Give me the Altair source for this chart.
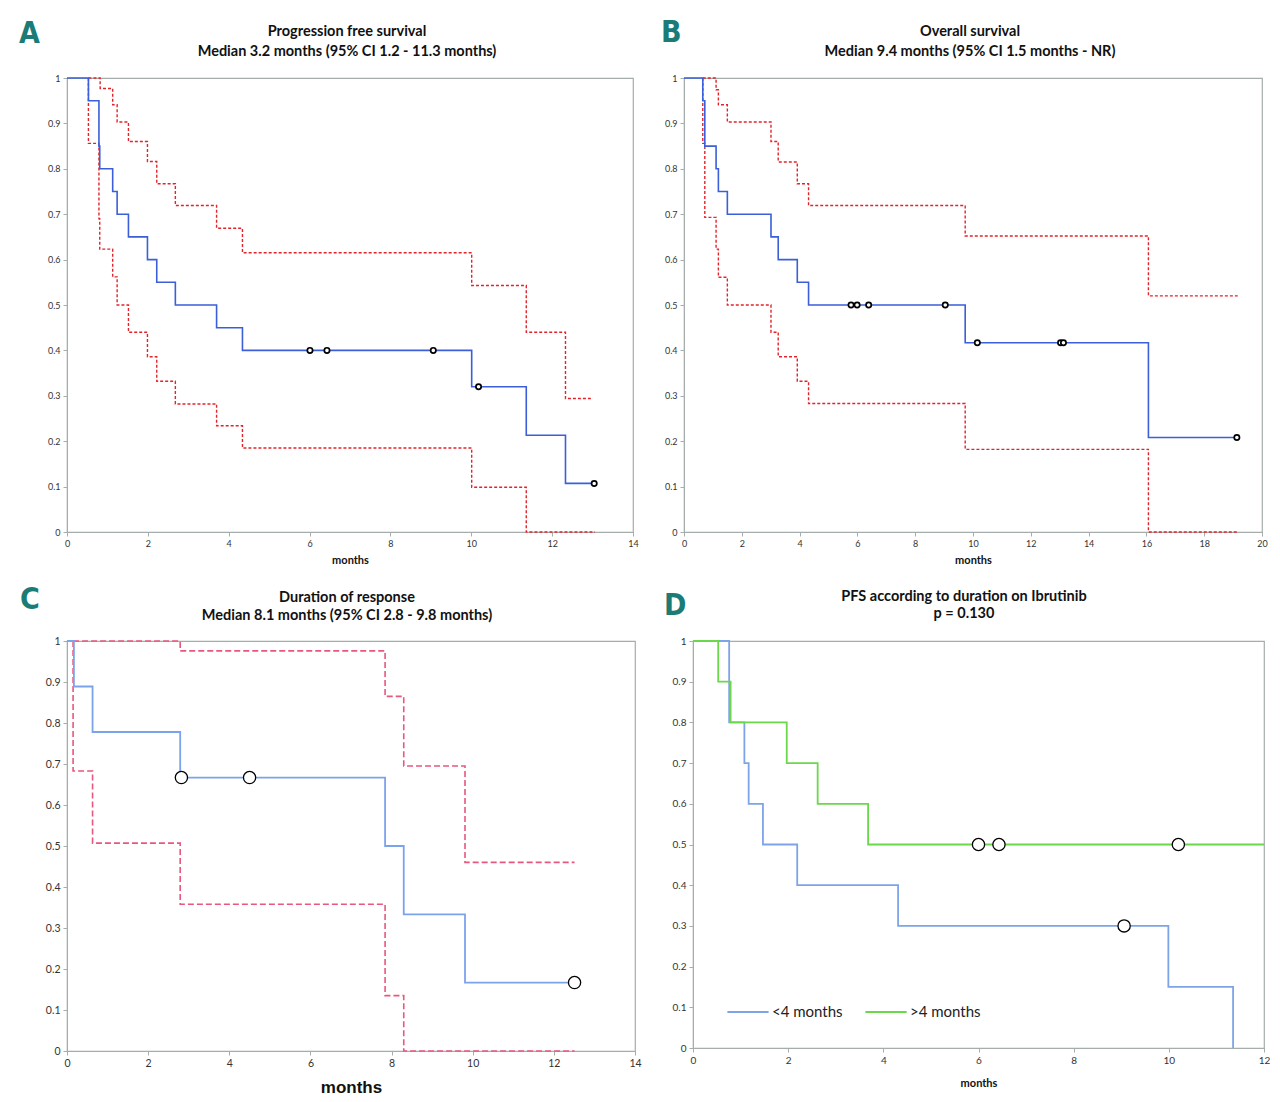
import altair as alt
import pandas as pd

# ---------------- data ----------------
letters = ["A", "B", "C", "D"]
titles = [
    ("Progression free survival", "Median 3.2 months (95% CI 1.2 - 11.3 months)"),
    ("Overall survival", "Median 9.4 months (95% CI 1.5 months - NR)"),
    ("Duration of response", "Median 8.1 months (95% CI 2.8 - 9.8 months)"),
    ("PFS according to duration on Ibrutinib", "p = 0.130"),
]
y_ticks = [0, 0.1, 0.2, 0.3, 0.4, 0.5, 0.6, 0.7, 0.8, 0.9, 1]

# Panel A - PFS
A_km_t = [0, 0.53, 0.79, 0.81, 1.13, 1.24, 1.52, 1.99, 2.22, 2.68, 3.70, 4.34, 10.01, 11.36, 12.33, 13.04]
A_km_s = [1, 0.95, 0.85, 0.80, 0.75, 0.70, 0.65, 0.60, 0.55, 0.50, 0.45, 0.40, 0.32, 0.213, 0.107, 0.107]
A_up_t = [0.53, 0.82, 1.13, 1.24, 1.52, 1.99, 2.22, 2.68, 3.70, 4.34, 10.01, 11.36, 12.33, 13.01]
A_up_s = [1, 0.977, 0.941, 0.903, 0.86, 0.816, 0.767, 0.719, 0.669, 0.615, 0.543, 0.44, 0.294, 0.294]
A_lo_t = [0.53, 0.53, 0.79, 0.81, 1.13, 1.24, 1.52, 1.99, 2.22, 2.68, 3.70, 4.34, 10.01, 11.36, 13.06]
A_lo_s = [1, 0.856, 0.69, 0.623, 0.562, 0.50, 0.44, 0.386, 0.332, 0.282, 0.234, 0.185, 0.0985, 0, 0]
A_cen_t = [6.01, 6.43, 9.06, 10.18, 13.04]
A_cen_s = [0.40, 0.40, 0.40, 0.32, 0.107]

# Panel B - OS
B_km_t = [0, 0.65, 0.72, 1.11, 1.19, 1.50, 3.01, 3.26, 3.92, 4.31, 9.73, 16.07, 19.13]
B_km_s = [1, 0.95, 0.85, 0.80, 0.75, 0.70, 0.65, 0.60, 0.55, 0.50, 0.417, 0.208, 0.208]
B_up_t = [0.65, 1.11, 1.19, 1.50, 3.01, 3.26, 3.92, 4.31, 9.73, 16.07, 19.16]
B_up_s = [1, 0.974, 0.941, 0.903, 0.86, 0.815, 0.767, 0.719, 0.652, 0.52, 0.52]
B_lo_t = [0.65, 0.65, 0.72, 1.11, 1.19, 1.50, 3.01, 3.26, 3.92, 4.31, 9.73, 16.07, 19.13]
B_lo_s = [1, 0.856, 0.693, 0.623, 0.561, 0.50, 0.44, 0.386, 0.332, 0.283, 0.182, 0, 0]
B_cen_t = [5.78, 5.99, 6.39, 9.04, 10.15, 13.03, 13.13, 19.13]
B_cen_s = [0.5, 0.5, 0.5, 0.5, 0.417, 0.417, 0.417, 0.208]

# Panel C - Duration of response
C_km_t = [0, 0.17, 0.63, 2.79, 7.84, 8.30, 9.81, 12.51]
C_km_s = [1, 0.889, 0.778, 0.667, 0.50, 0.333, 0.167, 0.167]
C_up_t = [0.15, 2.79, 7.84, 8.30, 9.81, 12.51]
C_up_s = [1, 0.976, 0.865, 0.695, 0.46, 0.46]
C_lo_t = [0.15, 0.15, 0.63, 2.79, 7.84, 8.30, 12.51]
C_lo_s = [1, 0.683, 0.507, 0.358, 0.135, 0, 0]
C_cen_t = [2.82, 4.50, 12.51]
C_cen_s = [0.667, 0.667, 0.167]

# Panel D - PFS by duration on ibrutinib
groups = ["<4 months", ">4 months"]
D1_t = [0, 0.76, 1.08, 1.17, 1.47, 2.19, 4.31, 9.99, 11.35]
D1_s = [1, 0.8, 0.7, 0.6, 0.5, 0.4, 0.3, 0.15, 0]
D1_cen_t = [9.06]
D1_cen_s = [0.3]
D2_t = [0, 0.53, 0.79, 1.97, 2.62, 3.68, 12.0]
D2_s = [1, 0.9, 0.8, 0.7, 0.6, 0.5, 0.5]
D2_cen_t = [6.0, 6.43, 10.2]
D2_cen_s = [0.5, 0.5, 0.5]

# ---------------- styles ----------------
GRAY = "#a5adad"
BLUE = "#3a5fd9"
RED = "#e3232a"
C_BLUE = "#7ba3ec"
C_PINK = "#e8577e"
D_BLUE = "#7ea4e8"
D_GREEN = "#6ad84a"
TEAL = "#1b7b77"
FONT = "Lato"


def df(t, s, g=None):
    d = pd.DataFrame({"t": t, "s": s, "i": list(range(len(t)))})
    if g is not None:
        d["g"] = g
    return d


def axes(xmax, lab_size, title_size, title_font, title_pad):
    xs = alt.Scale(domain=[0, xmax], nice=False, zero=True)
    ys = alt.Scale(domain=[0, 1], nice=False)
    xa = alt.Axis(values=list(range(0, xmax + 1, 2)), title="months", grid=False,
                  labelFontSize=lab_size, labelFont=FONT, labelColor="#333333",
                  titleFontSize=title_size, titleFont=title_font, titleFontWeight="bold",
                  titleColor="#111111", titlePadding=title_pad, tickSize=4,
                  domainColor=GRAY, tickColor=GRAY, labelPadding=3, labelFlush=False)
    ya = alt.Axis(values=y_ticks, format="~g", title=None, grid=False,
                  labelFontSize=lab_size, labelFont=FONT, labelColor="#333333",
                  tickSize=4, domainColor=GRAY, tickColor=GRAY, labelPadding=3,
                  labelFlush=False)
    return xs, ys, xa, ya


def step(d, xs, ys, xa, ya, color, width=1.6, dash=None, color_enc=None):
    kw = dict(interpolate="step-after", strokeWidth=width)
    if dash is not None:
        kw["strokeDash"] = dash
    if color_enc is None:
        kw["color"] = color
    enc = dict(x=alt.X("t:Q", scale=xs, axis=xa),
               y=alt.Y("s:Q", scale=ys, axis=ya),
               order=alt.Order("i:Q"))
    if color_enc is not None:
        enc["color"] = color_enc
    return alt.Chart(d).mark_line(**kw).encode(**enc)


def censor(d, xs, ys, xa, ya, size, sw):
    return alt.Chart(d).mark_point(shape="circle", filled=True, fill="white", stroke="black",
                                   strokeWidth=sw, size=size, opacity=1).encode(
        x=alt.X("t:Q", scale=xs, axis=xa), y=alt.Y("s:Q", scale=ys, axis=ya))


def letter(k, px, py):
    return alt.Chart(pd.DataFrame({"L": [letters[k]]})).mark_text(
        align="left", baseline="middle", fontSize=30, fontWeight="bold",
        font="Liberation Sans Narrow, DejaVu Sans Condensed, sans-serif", color=TEAL
    ).encode(text="L:N", x=alt.value(px), y=alt.value(py))


def head(k, cx, y1, y2):
    base = dict(align="center", baseline="middle", fontSize=14.5, fontWeight="bold",
                font=FONT, color="#111111")
    l1 = alt.Chart(pd.DataFrame({"T": [titles[k][0]]})).mark_text(**base).encode(
        text="T:N", x=alt.value(cx), y=alt.value(y1))
    l2 = alt.Chart(pd.DataFrame({"T": [titles[k][1]]})).mark_text(**base).encode(
        text="T:N", x=alt.value(cx), y=alt.value(y2))
    return l1 + l2


# Panel A
xs, ys, xa, ya = axes(14, 9, 11, FONT, 6)
pA = alt.layer(
    step(df(A_up_t, A_up_s), xs, ys, xa, ya, RED, 1.4, [3, 2]),
    step(df(A_lo_t, A_lo_s), xs, ys, xa, ya, RED, 1.4, [3, 2]),
    step(df(A_km_t, A_km_s), xs, ys, xa, ya, BLUE, 1.6),
    censor(df(A_cen_t, A_cen_s), xs, ys, xa, ya, 28, 1.7),
    letter(0, -48, -44),
    head(0, 280, -46, -26),
).properties(width=566, height=454)

# Panel B
xs, ys, xa, ya = axes(20, 9, 11, FONT, 6)
pB = alt.layer(
    step(df(B_up_t, B_up_s), xs, ys, xa, ya, RED, 1.4, [3, 2]),
    step(df(B_lo_t, B_lo_s), xs, ys, xa, ya, RED, 1.4, [3, 2]),
    step(df(B_km_t, B_km_s), xs, ys, xa, ya, BLUE, 1.6),
    censor(df(B_cen_t, B_cen_s), xs, ys, xa, ya, 28, 1.7),
    letter(1, -23, -45),
    head(1, 286, -46, -26),
).properties(width=578, height=454)

# Panel C
xs, ys, xa, ya = axes(14, 10.5, 17, "Liberation Sans", 11)
pC = alt.layer(
    step(df(C_up_t, C_up_s), xs, ys, xa, ya, C_PINK, 1.6, [6, 3]),
    step(df(C_lo_t, C_lo_s), xs, ys, xa, ya, C_PINK, 1.6, [6, 3]),
    step(df(C_km_t, C_km_s), xs, ys, xa, ya, C_BLUE, 1.8),
    censor(df(C_cen_t, C_cen_s), xs, ys, xa, ya, 150, 1.3),
    letter(2, -47, -41),
    head(2, 280, -43, -25),
).properties(width=568, height=410)

# Panel D
xs, ys, xa, ya = axes(12, 10, 11, FONT, 12)
cenc = alt.Color("g:N", scale=alt.Scale(domain=groups, range=[D_BLUE, D_GREEN]),
                 legend=alt.Legend(orient="none", legendX=33, legendY=349, direction="horizontal",
                                   title=None, symbolType="stroke", symbolSize=1700,
                                   symbolStrokeWidth=2, labelFontSize=15, labelFont=FONT,
                                   labelColor="#222222", labelOffset=2, columnPadding=18))
pD = alt.layer(
    step(df(D1_t, D1_s, groups[0]), xs, ys, xa, ya, D_BLUE, 1.8, color_enc=cenc),
    step(df(D2_t, D2_s, groups[1]), xs, ys, xa, ya, D_GREEN, 1.8, color_enc=cenc),
    censor(df(D1_cen_t, D1_cen_s), xs, ys, xa, ya, 150, 1.3),
    censor(df(D2_cen_t, D2_cen_s), xs, ys, xa, ya, 150, 1.3),
    letter(3, -29, -35),
    head(3, 271, -44, -27),
).properties(width=571, height=407)

row1 = alt.hconcat(pA, pB, spacing=51, bounds="flush")
row2 = alt.hconcat(pC, pD, spacing=58, bounds="flush").resolve_scale(color="independent")

chart = alt.vconcat(row1, row2, spacing=18).resolve_scale(color="independent").properties(
    padding={"left": 10, "top": 9, "right": 0, "bottom": 0},
    background="white",
).configure_view(stroke=GRAY, strokeWidth=1.2)

chart.save("out.html", embed_options={"renderer": "svg", "actions": False})
